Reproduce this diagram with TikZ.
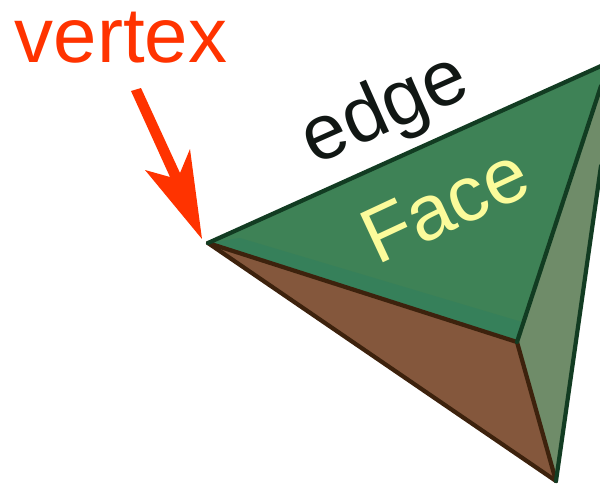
\documentclass[tikz,border=0pt]{standalone}
\usepackage{fontspec}
\setmainfont{Liberation Sans}
\definecolor{redor}{HTML}{FF3300}
\definecolor{greenface}{HTML}{3E8256}
\definecolor{greenband}{HTML}{36805A}
\definecolor{brownface}{HTML}{84573C}
\definecolor{greyface}{HTML}{6F8C69}
\definecolor{darkgreen}{HTML}{123C22}
\definecolor{darkbrown}{HTML}{3D220D}
\definecolor{paleyellow}{HTML}{FBFB9B}
\definecolor{inkblack}{HTML}{111714}
\newcommand{\pxfont}[1]{\fontsize{#1}{#1}\selectfont}
\tikzset{
  x=0.02cm,y=-0.02cm,
  edgeg/.style={draw=darkgreen,line width=2.4pt,line cap=round,line join=round},
  edgeb/.style={draw=darkbrown,line width=2.4pt,line cap=round,line join=round},
  lab/.style={inner sep=0pt,anchor=base},
}
\begin{document}
\begin{tikzpicture}
\useasboundingbox (0,0) rectangle (600,484);
\coordinate (A) at (208,243);
\coordinate (B) at (601,66);
\coordinate (BB) at (601,86);
\coordinate (BC) at (601,166);
\coordinate (C) at (517,342);
\coordinate (D) at (556,481);
% faces
\fill[brownface] (A) -- (C) -- (D) -- cycle;
\fill[greyface] (BB) -- (C) -- (D) -- (BC) -- cycle;
\fill[greenface] (A) -- (B) -- (BB) -- (C) -- cycle;
\fill[greenband] (A) -- (C) -- (522,322) -- (240,238) -- cycle;
% edges
\begin{scope}
\clip (0,0) rectangle (600,484);
\draw[edgeb] (A) -- (D);
\draw[edgeb] (C) -- (D);
\draw[edgeg] (D) -- (BC);
\draw[edgeb] (A) -- (C);
\draw[edgeg] (A) -- (B);
\draw[edgeg] (BB) -- (C);
\end{scope}
% arrow
\coordinate (tip) at (202,239);
\fill[redor] (131,91) -- (141,88) -- (180,173) -- (190,149) -- (tip) -- (145,170) -- (170,177) -- cycle;
% labels
\node[lab,text=redor] (vertex) at (121,62) {\pxfont{44.4}vertex};
\node[lab,text=inkblack,rotate=24] (edge) at (394,130) {\pxfont{44.5}edge};
\node[lab,text=paleyellow,rotate=25] (face) at (456,229) {\pxfont{44.5}Face};
\end{tikzpicture}
\end{document}
